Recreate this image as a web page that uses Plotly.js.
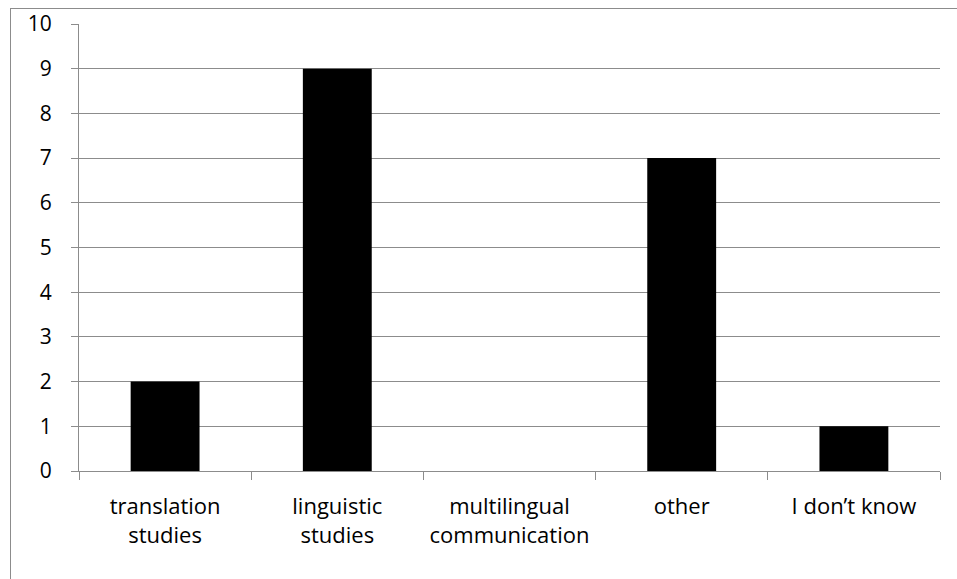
<!DOCTYPE html>
<html><head><meta charset="utf-8">
<script src="https://cdn.plot.ly/plotly-3.0.1.min.js"></script>
<style>
html,body{margin:0;padding:0;background:#fff;}
#wrap{position:relative;width:957px;height:579px;overflow:hidden;}
#frame{position:absolute;left:10px;top:8px;width:1000px;height:1000px;border-left:1px solid #8c8c8c;border-top:1px solid #8c8c8c;box-sizing:border-box;}
#chart{position:absolute;left:0;top:0;width:957px;height:579px;}
</style></head>
<body><div id="wrap"><div id="frame"></div><div id="chart"></div></div>
<script>
const categories = ["translation<br>studies", "linguistic<br>studies", "multilingual<br>communication", "other", "I don’t know"];
const values = [2, 9, 0, 7, 1];
const yTicks = [0,1,2,3,4,5,6,7,8,9,10];

Plotly.newPlot('chart', [{
  type: 'bar', x: categories, y: values,
  marker: {color: '#000000', line: {width: 0}},
  hoverinfo: 'none'
}], {
  width: 957, height: 579,
  paper_bgcolor: 'rgba(0,0,0,0)', plot_bgcolor: 'rgba(0,0,0,0)',
  margin: {l: 79, r: 17, t: 24, b: 108},
  bargap: 0.6,
  showlegend: false,
  font: {family: 'Open Sans, sans-serif', size: 20, color: '#000'},
  xaxis: {
    type: 'category', showgrid: false, showline: true, linecolor: '#8c8c8c', linewidth: 1,
    ticks: 'outside', tickson: 'boundaries', ticklen: 8, tickcolor: '#8c8c8c',
    tickfont: {size: 22}, ticklabelstandoff: 16, fixedrange: true
  },
  yaxis: {
    range: [0, 10], tickvals: yTicks, ticktext: yTicks.map(String),
    showgrid: true, gridcolor: '#8c8c8c', gridwidth: 1,
    showline: true, linecolor: '#8c8c8c', linewidth: 1, zeroline: false,
    ticks: 'outside', ticklen: 7, tickcolor: '#8c8c8c',
    tickfont: {size: 21}, ticklabelstandoff: 15, fixedrange: true
  }
}, {staticPlot: true});
</script></body></html>
